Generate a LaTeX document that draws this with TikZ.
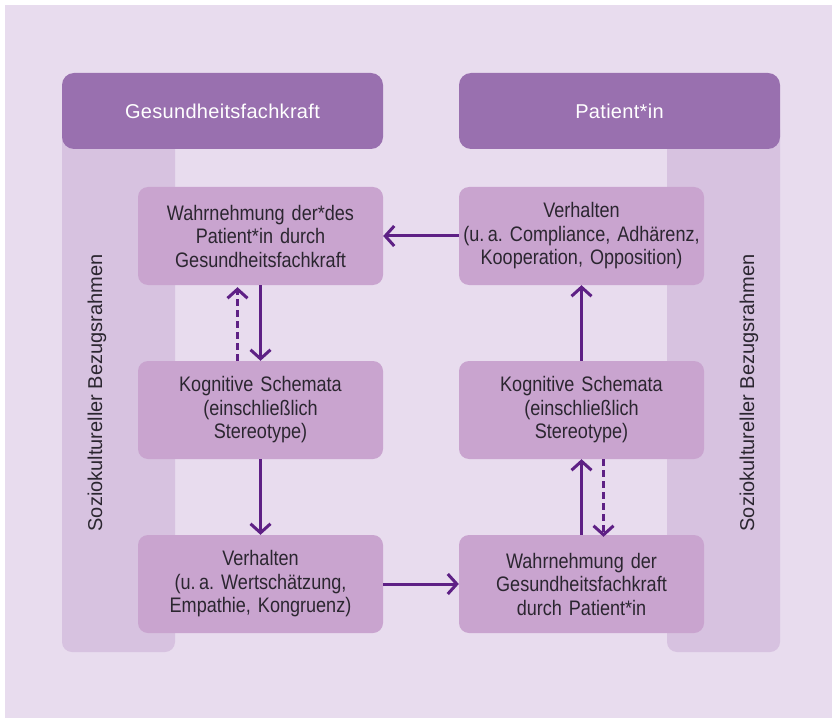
\documentclass[tikz,border=0pt]{standalone}
\usepackage{fontspec}
\setmainfont{Liberation Sans}[FakeStretch=0.86,WordSpace=0.85]
\newfontfamily\headfont{Liberation Sans}[LetterSpace=1.5]
\usepackage{tikz}
\usetikzlibrary{arrows.meta,positioning}
\definecolor{lilabg}{HTML}{E8DCEE}
\definecolor{lilahead}{HTML}{9970AF}
\definecolor{lilabar}{HTML}{D7C2E0}
\definecolor{lilabox}{HTML}{C9A4CF}
\definecolor{lilaarrow}{HTML}{5E2085}
\definecolor{textgray}{HTML}{2B2630}
\newfontfamily\sidefont{Liberation Sans}
\frenchspacing

\begin{document}
\begin{tikzpicture}[x=1pt,y=-1pt,
        font=\fontsize{21}{23.5}\selectfont,
        box/.style={fill=lilabox,rounded corners=10pt,minimum width=245pt,
          minimum height=98pt,text width=240pt,align=center,text=textgray,inner sep=0pt},
        head/.style={fill=lilahead,rounded corners=12pt,minimum width=321pt,
          minimum height=76pt,text=white,inner sep=0pt,font=\fontsize{20}{24}\headfont},
        side/.style={rotate=90,text=textgray,font=\fontsize{20}{24}\sidefont},
        arr/.style={draw=lilaarrow,line width=3pt,
          -{Straight Barb[length=9pt,width=20pt,line width=3pt]}},
        dash arr/.style={arr,dash pattern=on 7pt off 4pt}]
        \useasboundingbox[fill=white] (0,0) rectangle (832,719);
        \fill[lilabg] (5,5) rectangle (832,718);
        % Bezugsrahmen
        \fill[lilabar,rounded corners=10pt] (62,120) rectangle (175,652);
        \fill[lilabar,rounded corners=10pt] (667,120) rectangle (780,652);
        \node[side] (fl) at (97,393) {Soziokultureller Bezugsrahmen};
        \node[side] (fr) at (749,393) {Soziokultureller Bezugsrahmen};
        % Kopfzeilen
        \node[head] (hg) at (222.5,111) {Gesundheitsfachkraft};
        \node[head] (hp) at (619.5,111) {Patient*in};
        % Gesundheitsfachkraft
        \node[box] (gw) at (260.5,236) {Wahrnehmung der*des\\Patient*in durch\\Gesundheitsfachkraft};
        \node[box] (gk) at (260.5,410) {Kognitive Schemata\\(einschließlich\\Stereotype)};
        \node[box] (gv) at (260.5,584) {Verhalten\\(u.\,a. Wertschätzung,\\Empathie, Kongruenz)};
        % Patient*in
        \node[box] (pv) at (581.5,236) {Verhalten\\(u.\,a. Compliance, Adhärenz,\\Kooperation, Opposition)};
        \node[box] (pk) at (581.5,410) {Kognitive Schemata\\(einschließlich\\Stereotype)};
        \node[box] (pw) at (581.5,584) {Wahrnehmung der\\Gesundheitsfachkraft\\durch Patient*in};
        \draw[arr] (gw.south) -- (gk.north);
        \draw[dash arr] ([xshift=-23pt]gk.north) -- ([xshift=-23pt,yshift=-2pt]gw.south);
        \draw[arr] (gk.south) -- (gv.north);
        \draw[arr] (gv.east) -- (pw.west);
        \draw[arr] (pw.north) -- (pk.south);
        \draw[dash arr] ([xshift=22pt]pk.south) -- ([xshift=22pt,yshift=-2pt]pw.north);
        \draw[arr] (pk.north) -- (pv.south);
        \draw[arr] (pv.west) -- (gw.east);
      \end{tikzpicture}
\end{document}
